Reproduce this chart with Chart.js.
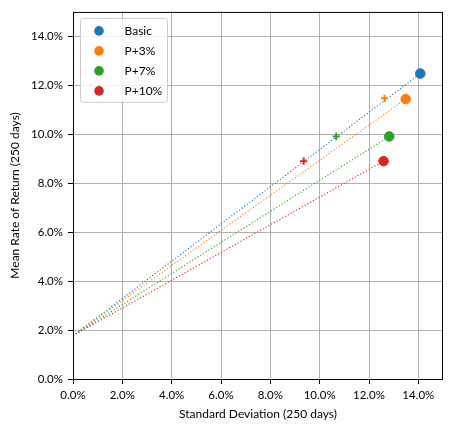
<!DOCTYPE html>
<html>
<head>
<meta charset="utf-8">
<script src="https://cdn.jsdelivr.net/npm/chart.js@4.4.1/dist/chart.umd.min.js"></script>
<style>
  html, body { margin: 0; padding: 0; background: #fff; }
  #wrap { width: 452px; height: 430px; }
</style>
</head>
<body>
<div id="wrap"><canvas id="chart"></canvas></div>
<script>
// values in percent
const seriesNames   = ['Basic', 'P+3%', 'P+7%', 'P+10%'];
const seriesColors  = ['#1f77b4', '#ff7f0e', '#2ca02c', '#d62728'];
const riskFree      = 1.77;
const portfolioStd  = [14.08, 13.49, 12.82, 12.59];
const portfolioRet  = [12.48, 11.44, 9.91, 8.90];
const crossStd      = [14.08, 12.63, 10.67, 9.35];
const crossRet      = [12.48, 11.47, 9.91, 8.90];
const xTicks        = [0, 2, 4, 6, 8, 10, 12, 14];
const yTicks        = [0, 2, 4, 6, 8, 10, 12, 14];

const FONT = 'Lato, "Open Sans", sans-serif';

const datasets = [];
seriesNames.forEach((name, i) => {
  datasets.push({
    type: 'scatter',
    label: name,
    data: [{ x: portfolioStd[i], y: portfolioRet[i] }],
    backgroundColor: seriesColors[i],
    borderColor: seriesColors[i],
    pointRadius: 4.8,
    pointHoverRadius: 4.8,
    order: 0,
  });
});
seriesNames.forEach((name, i) => {
  datasets.push({
    type: 'scatter',
    label: name + ' cross',
    data: [{ x: crossStd[i], y: crossRet[i] }],
    pointStyle: 'cross',
    borderColor: seriesColors[i],
    backgroundColor: seriesColors[i],
    borderWidth: 2,
    pointRadius: 3.6,
    pointHoverRadius: 3.6,
    order: 1,
  });
});
seriesNames.forEach((name, i) => {
  datasets.push({
    type: 'line',
    label: name + ' line',
    data: [{ x: 0, y: riskFree }, { x: portfolioStd[i], y: portfolioRet[i] }],
    borderColor: seriesColors[i],
    borderWidth: 1.1,
    borderDash: [1.2, 2],
    pointRadius: 0,
    fill: false,
    order: 2,
  });
});

// legend drawn inside the axes, upper left
const innerLegend = {
  id: 'innerLegend',
  afterDraw(chart) {
    const { ctx, chartArea } = chart;
    const x0 = chartArea.left + 7.5, y0 = chartArea.top + 6.5;
    const w = 87, h = 84;
    ctx.save();
    ctx.beginPath();
    ctx.roundRect(x0, y0, w, h, 3);
    ctx.fillStyle = 'rgba(255,255,255,0.8)';
    ctx.fill();
    ctx.strokeStyle = '#cccccc';
    ctx.lineWidth = 1;
    ctx.stroke();
    ctx.font = '12px ' + FONT;
    ctx.textBaseline = 'middle';
    seriesNames.forEach((name, i) => {
      const cy = y0 + 12.5 + i * 20;
      ctx.beginPath();
      ctx.arc(x0 + 18.5, cy, 4.8, 0, Math.PI * 2);
      ctx.fillStyle = seriesColors[i];
      ctx.fill();
      ctx.fillStyle = '#000';
      ctx.fillText(name, x0 + 44, cy);
    });
    ctx.restore();
  }
};

// all four spines
const frame = {
  id: 'frame',
  afterDatasetsDraw(chart) {
    const { ctx, chartArea } = chart;
    ctx.save();
    ctx.strokeStyle = '#000';
    ctx.lineWidth = 1;
    ctx.strokeRect(chartArea.left + 0.5, chartArea.top + 0.5,
                   chartArea.right - chartArea.left - 1, chartArea.bottom - chartArea.top);
    ctx.restore();
  }
};

const pct = v => v.toFixed(1) + '%';

new Chart(document.getElementById('chart'), {
  type: 'scatter',
  data: { datasets },
  plugins: [frame, innerLegend],
  options: {
    responsive: true,
    maintainAspectRatio: false,
    animation: false,
    devicePixelRatio: 1,
    layout: { padding: { top: 9, right: 9, left: 0, bottom: 0 } },
    plugins: {
      legend: { display: false },
      tooltip: { enabled: false },
    },
    scales: {
      x: {
        type: 'linear',
        min: 0,
        max: 15,
        afterBuildTicks: axis => { axis.ticks = xTicks.map(v => ({ value: v })); },
        afterFit: scale => { scale.height = 51; },
        ticks: { callback: pct, color: '#000', font: { family: FONT, size: 11.5 }, padding: 4, maxRotation: 0 },
        grid: { color: '#b0b0b0', lineWidth: 1, tickColor: '#000', tickLength: 5 },
        border: { display: false },
        title: { display: true, text: 'Standard Deviation (250 days)', color: '#000',
                 font: { family: FONT, size: 12 }, padding: { top: 2, bottom: 9 } },
      },
      y: {
        type: 'linear',
        min: 0,
        max: 15,
        afterBuildTicks: axis => { axis.ticks = yTicks.map(v => ({ value: v })); },
        afterFit: scale => { scale.width = 73; },
        ticks: { callback: pct, color: '#000', font: { family: FONT, size: 11.5 }, padding: 5 },
        grid: { color: '#b0b0b0', lineWidth: 1, tickColor: '#000', tickLength: 5 },
        border: { display: false },
        title: { display: true, text: 'Mean Rate of Return (250 days)', color: '#000',
                 font: { family: FONT, size: 12 }, padding: { top: 8, bottom: 2 } },
      },
    },
  },
});
</script>
</body>
</html>
